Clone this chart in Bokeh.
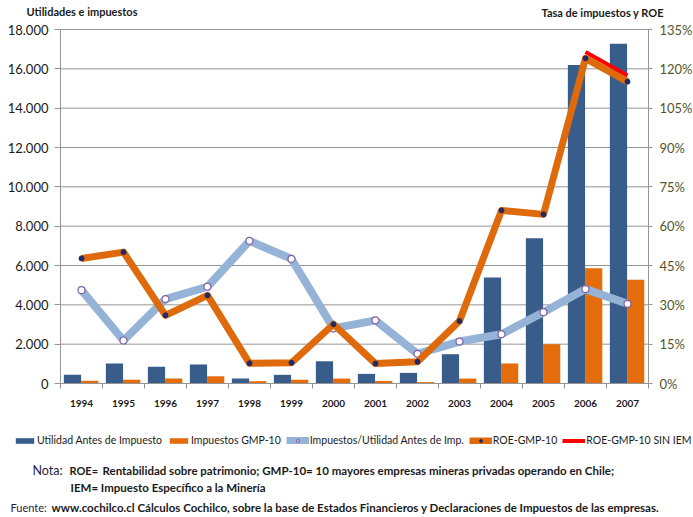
from bokeh.plotting import figure
from bokeh.models import (Range1d, LinearAxis, FixedTicker, Label,
                          Legend, LegendItem, ColumnDataSource)
from bokeh.embed import file_html
from bokeh.resources import INLINE

# ---------------- data ----------------
years = ["1994", "1995", "1996", "1997", "1998", "1999", "2000",
         "2001", "2002", "2003", "2004", "2005", "2006", "2007"]
utilidad = [440, 1020, 850, 970, 250, 440, 1130, 490, 540, 1490, 5390, 7390, 16200, 17270]
impuestos = [140, 190, 250, 370, 120, 190, 250, 130, 70, 250, 1020, 2000, 5860, 5270]
tasa = [35.6, 16.4, 32.2, 36.9, 54.4, 47.5, 21.0, 24.1, 11.3, 16.0, 18.8, 27.2, 36.0, 30.4]
roe = [47.7, 50.1, 26.0, 33.6, 7.7, 7.9, 22.6, 7.6, 8.3, 23.8, 66.0, 64.5, 124.0, 115.1]
sin_iem_years = ["2006", "2007"]
roe_sin_iem = [126.4, 117.5]

left_ticks = [0, 2000, 4000, 6000, 8000, 10000, 12000, 14000, 16000, 18000]
left_tick_labels = ["0", "2.000", "4.000", "6.000", "8.000", "10.000",
                    "12.000", "14.000", "16.000", "18.000"]
right_ticks = [0, 15, 30, 45, 60, 75, 90, 105, 120, 135]
right_tick_labels = ["0%", "15%", "30%", "45%", "60%", "75%", "90%", "105%", "120%", "135%"]

series_names = ["Utilidad Antes de Impuesto", "Impuestos GMP-10",
                "Impuestos/Utilidad Antes de Imp.", "ROE-GMP-10", "ROE-GMP-10 SIN IEM"]

# ---------------- style / geometry ----------------
FONT = "Lato"
C_BLUE = "#385D8A"
C_ORANGE = "#E46C0A"
C_LBLUE = "#95B3D7"
C_ROE = "#DE6A0B"
C_RED = "#FF0000"
C_GRID = "#959595"

W, H = 693, 517
n = len(years)
# plot area in canvas pixels
PL, PR, PT, PB = 60, 648, 29, 383
ymax_left, ymax_right = 18000, 135
sx = (PR - PL) / n                 # px per category
sy = (PB - PT) / ymax_left          # px per unit (left)
x_lo, x_hi = -PL / sx, n + (W - PR) / sx
y_lo, y_hi = -(H - PB) / sy, ymax_left + PT / sy
k = ymax_right / ymax_left

pos = {y: i + 0.5 for i, y in enumerate(years)}   # category centres
xc = [pos[y] for y in years]

src = ColumnDataSource(dict(x=xc, xu=[v - 0.215 for v in xc], xi=[v + 0.195 for v in xc],
                            utilidad=utilidad, impuestos=impuestos, tasa=tasa, roe=roe))
src_red = ColumnDataSource(dict(x=[pos[y] for y in sin_iem_years], roe=roe_sin_iem))

p = figure(x_range=Range1d(x_lo, x_hi), y_range=Range1d(y_lo, y_hi),
           width=W, height=H, min_border=0,
           output_backend="svg", toolbar_location=None,
           x_axis_location=None, y_axis_location=None)
p.extra_y_ranges = {"pct": Range1d(y_lo * k, y_hi * k)}
p.outline_line_color = None
p.background_fill_color = "white"
p.border_fill_color = "white"
p.xgrid.grid_line_color = None
p.ygrid.grid_line_color = None

# horizontal gridlines across the plot area
p.segment(x0=[0] * len(left_ticks), x1=[n] * len(left_ticks), y0=left_ticks, y1=left_ticks,
          line_color=C_GRID, line_width=1)

# left axis
ya = LinearAxis(ticker=FixedTicker(ticks=left_ticks), fixed_location=0, bounds=(0, ymax_left))
ya.major_label_overrides = {t: l for t, l in zip(left_ticks, left_tick_labels)}
ya.axis_line_color = C_GRID
ya.major_tick_line_color = C_GRID
ya.major_tick_out = 6
ya.major_tick_in = 0
ya.minor_tick_line_color = None
ya.major_label_standoff = 6
ya.major_label_text_font = FONT
ya.major_label_text_font_size = "13px"
ya.major_label_text_color = "#1a1a1a"
p.add_layout(ya, "left")

# right axis
ra = LinearAxis(y_range_name="pct", ticker=FixedTicker(ticks=right_ticks),
                fixed_location=n, bounds=(0, ymax_right))
ra.major_label_overrides = {t: l for t, l in zip(right_ticks, right_tick_labels)}
ra.axis_line_color = C_GRID
ra.major_tick_line_color = C_GRID
ra.major_tick_out = 4
ra.major_tick_in = 0
ra.minor_tick_line_color = None
ra.major_label_standoff = 7
ra.major_label_text_font = FONT
ra.major_label_text_font_size = "13px"
ra.major_label_text_color = "#55552A"
p.add_layout(ra, "right")

# bottom: tick marks between categories + year labels at centres
ea = LinearAxis(ticker=FixedTicker(ticks=list(range(n + 1))), fixed_location=0, bounds=(0, n))
ea.major_label_overrides = {i: "" for i in range(n + 1)}
ea.axis_line_color = C_GRID
ea.major_tick_line_color = C_GRID
ea.major_tick_out = 5
ea.major_tick_in = 0
ea.minor_tick_line_color = None
ea.major_label_text_font_size = "1px"
ea.major_label_standoff = 0
p.add_layout(ea, "below")

ca = LinearAxis(ticker=FixedTicker(ticks=xc), fixed_location=0)
ca.major_label_overrides = {pos[y]: y for y in years}
ca.axis_line_color = None
ca.major_tick_line_color = None
ca.minor_tick_line_color = None
ca.major_tick_out = 0
ca.major_tick_in = 0
ca.major_label_standoff = 16
ca.major_label_text_font = FONT
ca.major_label_text_font_style = "bold"
ca.major_label_text_font_size = "10px"
ca.major_label_text_color = "#1a1a1a"
p.add_layout(ca, "below")

# bars
r_u = p.vbar(x="xu", top="utilidad", width=0.41, source=src,
             fill_color=C_BLUE, line_color=None)
r_i = p.vbar(x="xi", top="impuestos", width=0.41, source=src,
             fill_color=C_ORANGE, line_color=None)

# lines
r_t = p.line(x="x", y="tasa", source=src, y_range_name="pct", line_color=C_LBLUE,
             line_width=8, line_join="round")
r_tm = p.scatter(x="x", y="tasa", source=src, y_range_name="pct", marker="circle",
                 size=7, fill_color="white", line_color="#8064A2", line_width=1.2)
r_red = p.line(x="x", y="roe", source=src_red, y_range_name="pct", line_color=C_RED,
               line_width=4)
r_roe = p.line(x="x", y="roe", source=src, y_range_name="pct", line_color=C_ROE,
               line_width=7, line_join="round")
r_roem = p.scatter(x="x", y="roe", source=src, y_range_name="pct", marker="circle",
                   size=5, fill_color="#1F2A6B", line_color="#1F2A6B")

legend = Legend(items=[
    LegendItem(label=series_names[0], renderers=[r_u]),
    LegendItem(label=series_names[1], renderers=[r_i]),
    LegendItem(label=series_names[2], renderers=[r_t, r_tm]),
    LegendItem(label=series_names[3], renderers=[r_roe, r_roem]),
    LegendItem(label=series_names[4], renderers=[r_red]),
], orientation="horizontal", location=(13, 71))
legend.glyph_width = 23
legend.glyph_height = 7
legend.label_standoff = 1
legend.spacing = 5
legend.padding = 0
legend.margin = 0
legend.border_line_color = None
legend.background_fill_alpha = 0
legend.label_text_font = FONT
legend.label_text_font_size = "10.5px"
legend.label_text_color = "#1a1a1a"
p.add_layout(legend, "center")

def lab(x, y, text, size="11.5px", style="bold", color="#1a1a1a"):
    p.add_layout(Label(x=x, y=y, x_units="screen", y_units="screen", text=text,
                       text_font=FONT, text_font_size=size, text_font_style=style,
                       text_color=color, text_baseline="middle", text_align="left"))

lab(26, 506, "Utilidades e impuestos", size="11px")
lab(541, 505, "Tasa de impuestos y ROE", size="11px")
lab(32, 47, "Nota:", size="12.5px", style="normal", color="#1F2340")
lab(69, 47, "ROE=", size="11px")
lab(102, 47, "Rentabilidad sobre patrimonio; GMP-10= 10 mayores empresas mineras privadas operando en Chile;")
lab(70, 30, "IEM=  Impuesto  Específico a la Minería")
lab(10, 10, "Fuente:", size="11px", style="normal", color="#1F2340")
lab(51, 10, "www.cochilco.cl  Cálculos Cochilco, sobre la base de Estados Financieros y Declaraciones de Impuestos de las empresas.")

open("out.html", "w").write(file_html(p, INLINE))
